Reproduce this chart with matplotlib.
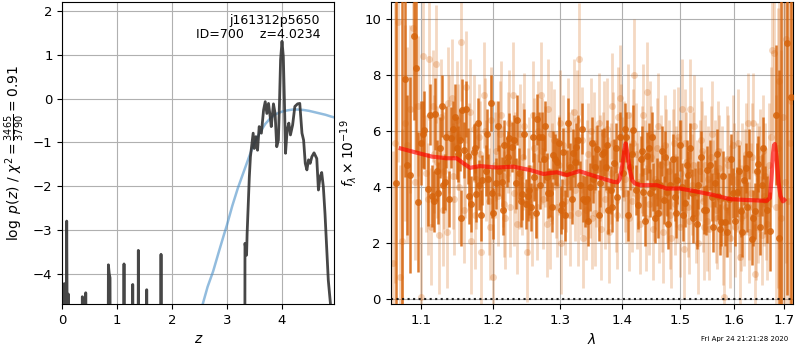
import matplotlib
matplotlib.use("Agg")
import matplotlib.pyplot as plt
from matplotlib.ticker import FixedLocator, FixedFormatter, NullLocator

# ---------------- Left panel: log p(z) ----------------
pz_z = [0.000, 0.028, 0.036, 0.044, 0.070, 0.080, 0.090, 0.104, 0.110, 0.118,
        0.355, 0.365, 0.375, 0.418, 0.427, 0.436,
        0.830, 0.840, 0.855, 0.870, 0.880,
        1.115, 1.125, 1.135, 1.275, 1.284, 1.293, 1.377, 1.386, 1.395,
        1.530, 1.539, 1.548, 1.790, 1.800, 1.810,
        3.325, 3.331, 3.360, 3.370, 3.410, 3.430, 3.480, 3.500, 3.530, 3.560,
        3.590, 3.630, 3.670, 3.700, 3.730, 3.760, 3.790, 3.810, 3.850, 3.880,
        3.910, 3.940, 3.960, 3.980, 4.006, 4.030, 4.050, 4.070, 4.100, 4.130,
        4.160, 4.200, 4.240, 4.290, 4.330, 4.370, 4.400, 4.430, 4.460, 4.490,
        4.520, 4.550, 4.590, 4.640, 4.670, 4.700, 4.730, 4.760, 4.790, 4.850,
        4.890, 4.960]
pz_val = [-9.0, -7.0, -4.23, -6.5, -6.0, -2.80, -5.5, -5.0, -4.47, -8.0,
          -9.0, -4.53, -9.0, -9.0, -4.44, -9.0,
          -9.0, -3.80, -4.00, -4.10, -9.0,
          -9.0, -3.78, -9.0, -9.0, -4.25, -9.0, -9.0, -3.47, -9.0,
          -9.0, -4.37, -9.0, -9.0, -3.56, -9.0,
          -9.0, -3.31, -3.58, -3.08, -1.79, -1.33, -0.79, -1.14, -0.87, -1.18,
          -0.64, -0.79, -0.26, -0.07, -0.34, -0.11, -0.41, -0.64, -0.12, -0.34,
          -1.10, -0.95, -0.10, 0.89, 1.31, 0.96, -0.05, -1.25, -0.72, -0.56,
          -0.83, -0.60, -0.18, -0.12, -0.11, -0.79, -0.95, -1.48, -1.63, -1.40,
          -1.48, -1.33, -1.24, -1.37, -2.09, -1.79, -1.69, -2.02, -2.63, -4.15,
          -4.70, -6.50]

prior_z = [2.30, 2.45, 2.56, 2.65, 2.75, 2.85, 2.95, 3.00, 3.10, 3.20, 3.30,
           3.40, 3.50, 3.60, 3.70, 3.80, 3.90, 4.00, 4.10, 4.20, 4.30, 4.40,
           4.50, 4.60, 4.70, 4.80, 4.90, 4.96]
prior_val = [-6.5, -5.5, -4.70, -4.30, -3.95, -3.52, -3.10, -2.90, -2.45, -2.05,
             -1.70, -1.35, -1.02, -0.78, -0.58, -0.44, -0.35, -0.30, -0.27, -0.25,
             -0.25, -0.26, -0.28, -0.31, -0.34, -0.37, -0.41, -0.43]

z_ticks = [0, 1, 2, 3, 4]
pz_yticks = [-4, -3, -2, -1, 0, 1, 2]

# ---------------- Right panel: spectrum ----------------
bin_wave = [1.0684, 1.0750, 1.0792, 1.0825, 1.0865, 1.0909, 1.0943, 1.0965, 1.1008, 1.1044,
            1.1097, 1.1154, 1.1194, 1.1230, 1.1261, 1.1297, 1.1341, 1.1409, 1.1456, 1.1488,
            1.1524, 1.1556, 1.1583, 1.1639, 1.1684, 1.1718, 1.1754, 1.1801, 1.1838, 1.1887,
            1.1923, 1.1966, 1.2000, 1.2038, 1.2086, 1.2120, 1.2158, 1.2192, 1.2230, 1.2265,
            1.2327, 1.2375, 1.2425, 1.2474, 1.2523, 1.2559, 1.2598, 1.2649, 1.2689, 1.2723,
            1.2753, 1.2790, 1.2842, 1.2893, 1.2946, 1.3008, 1.3049, 1.3101, 1.3153, 1.3205,
            1.3248, 1.3311, 1.3364, 1.3418, 1.3471, 1.3525, 1.3553, 1.3590, 1.3634, 1.3700,
            1.3733, 1.3771, 1.3811, 1.3865, 1.3920, 1.4020, 1.4065, 1.4132, 1.4188, 1.4273,
            1.4314, 1.4358, 1.4427, 1.4474, 1.4531, 1.4590, 1.4648, 1.4718, 1.4766, 1.4825,
            1.4914, 1.4955, 1.5034, 1.5093, 1.5153, 1.5214, 1.5275, 1.5336, 1.5441, 1.5502,
            1.5583, 1.5645, 1.5707, 1.5753, 1.5834, 1.5915, 1.5992, 1.6057, 1.6134, 1.6198,
            1.6262, 1.6348, 1.6413, 1.6479, 1.6546, 1.6612, 1.6708, 1.6830, 1.6884, 1.6935,
            1.7063, 1.7133]
bin_flux = [4.14, 12.0, 7.87, 4.80, 4.44, 9.40, 8.25, 3.49, 5.57, 6.05,
            3.93, 3.69, 6.62, 3.81, 5.42, 4.08, 5.79, 5.78, 6.50, 5.40,
            5.69, 6.78, 5.33, 5.12, 3.42, 5.25, 3.77, 4.08, 4.26, 4.60,
            4.30, 7.00, 3.07, 4.14, 4.60, 4.20, 5.50, 4.90, 5.75, 5.45,
            4.14, 4.50, 3.75, 3.40, 3.90, 3.31, 4.38, 6.43, 4.08, 5.80,
            5.00, 4.38, 3.80, 5.15, 4.91, 3.19, 5.27, 4.50, 4.74, 5.22,
            5.45, 4.08, 3.60, 3.60, 4.02, 4.30, 4.74, 5.38, 4.14, 5.26,
            4.74, 3.19, 3.90, 4.88, 3.66, 4.50, 5.80, 4.74, 6.04, 3.37,
            5.00, 3.84, 5.12, 3.80, 4.02, 4.20, 4.08, 3.55, 3.84, 4.08,
            3.66, 4.26, 4.02, 3.45, 4.44, 3.80, 3.84, 4.08, 3.19, 4.62,
            3.66, 4.14, 3.70, 2.77, 2.77, 3.60, 3.80, 3.84, 3.14, 4.26,
            3.30, 2.14, 3.14, 4.83, 4.08, 3.55, 2.43, 6.57, 2.20, 11.5,
            9.15, 7.24]
bin_err = [8.0, 12.5, 3.5, 2.5, 3.5, 3.0, 3.0, 2.5, 1.5, 1.4,
           1.3, 1.1, 1.3, 1.1, 1.1, 1.0, 1.1, 1.1, 1.2, 1.1,
           1.1, 1.1, 1.0, 1.0, 1.0, 1.0, 1.0, 0.9, 0.9, 0.9,
           0.9, 1.0, 0.9, 0.9, 0.9, 0.9, 0.9, 0.9, 0.9, 0.9,
           0.9, 0.9, 0.9, 0.9, 0.9, 0.85, 0.85, 0.9, 0.85, 0.9,
           0.85, 0.85, 0.85, 0.85, 0.85, 0.85, 0.85, 0.85, 0.85, 0.85,
           0.85, 0.85, 0.85, 0.85, 0.85, 0.85, 0.85, 0.85, 0.85, 0.85,
           0.85, 0.85, 0.85, 0.85, 0.85, 0.85, 0.9, 0.85, 0.9, 0.85,
           0.85, 0.85, 0.85, 0.85, 0.85, 0.85, 0.85, 0.85, 0.85, 0.85,
           0.85, 0.85, 0.85, 0.85, 0.85, 0.85, 0.85, 0.85, 0.85, 0.85,
           0.85, 0.85, 0.85, 0.85, 0.85, 0.9, 0.9, 0.9, 0.9, 0.9,
           0.9, 0.9, 1.0, 1.0, 1.1, 1.2, 1.4, 2.5, 6.0, 12.0,
           9.0, 9.0]

bin2_wave = [1.1026, 1.1125, 1.1175, 1.1212, 1.1279, 1.1320, 1.1375, 1.1432, 1.1505, 1.1540,
             1.1610, 1.1660, 1.1736, 1.1780, 1.1820, 1.1905, 1.1983, 1.2060, 1.2140, 1.2210,
             1.2296, 1.2350, 1.2400, 1.2450, 1.2500, 1.2575, 1.2625, 1.2670, 1.2770, 1.2815,
             1.2870, 1.2920, 1.2975, 1.3030, 1.3075, 1.3127, 1.3180, 1.3228, 1.3280, 1.3340,
             1.3390, 1.3445, 1.3498, 1.3612, 1.3667, 1.3752, 1.3838, 1.3893, 1.3970, 1.4043,
             1.4098, 1.4160, 1.4230, 1.4336, 1.4392, 1.4450, 1.4503, 1.4560, 1.4619, 1.4683,
             1.4742, 1.4795, 1.4870, 1.4935, 1.4995, 1.5063, 1.5123, 1.5183, 1.5244, 1.5305,
             1.5390, 1.5470, 1.5543, 1.5614, 1.5676, 1.5730, 1.5793, 1.5875, 1.5953, 1.6025,
             1.6095, 1.6166, 1.6230, 1.6305, 1.6380, 1.6446, 1.6512, 1.6580, 1.6650]
bin2_flux = [5.9, 6.6, 3.5, 4.6, 6.9, 4.2, 3.6, 6.1, 5.2, 2.9,
             6.8, 3.7, 5.4, 6.3, 3.0, 5.9, 3.8, 6.2, 3.2, 5.1,
             5.7, 6.4, 3.5, 5.9, 3.7, 5.8, 3.1, 5.8, 6.2, 3.8,
             3.3, 5.0, 5.6, 3.4, 3.0, 6.3, 3.6, 4.9, 5.7, 6.1,
             3.5, 2.8, 5.6, 3.0, 5.2, 5.5, 3.3, 5.4, 5.8, 6.1,
             3.0, 5.2, 3.9, 5.3, 2.8, 5.4, 5.8, 2.9, 3.1, 5.3,
             5.1, 2.7, 5.0, 3.1, 5.5, 3.0, 4.8, 5.4, 2.9, 2.7,
             5.1, 3.2, 4.8, 2.6, 5.2, 2.5, 4.4, 2.4, 5.0, 2.8,
             4.6, 2.4, 4.7, 5.2, 2.9, 4.6, 2.6, 5.4, 3.2]
bin2_err = [1.2, 1.1, 1.1, 1.1, 1.1, 1.0, 1.0, 1.0, 1.0, 1.0,
            1.0, 1.0, 0.9, 0.9, 0.9, 0.9, 0.9, 0.9, 0.9, 0.9,
            0.9, 0.9, 0.9, 0.9, 0.9, 0.9, 0.9, 0.9, 0.9, 0.9,
            0.9, 0.9, 0.9, 0.9, 0.9, 0.9, 0.9, 0.9, 0.9, 0.9,
            0.9, 0.9, 0.9, 0.9, 0.9, 0.9, 0.9, 0.9, 0.9, 0.9,
            0.9, 0.9, 0.9, 0.9, 0.9, 0.9, 0.9, 0.9, 0.9, 0.9,
            0.9, 0.9, 0.9, 0.9, 0.9, 0.9, 0.9, 0.9, 0.9, 0.9,
            0.9, 0.9, 0.9, 0.9, 0.9, 0.9, 0.9, 0.9, 0.9, 0.9,
            0.9, 0.9, 0.9, 0.9, 1.0, 1.0, 1.0, 1.1, 1.2]

pt_wave = [1.0635, 1.0668, 1.0702, 1.0726, 1.0758, 1.0790, 1.0825, 1.0860, 1.0896, 1.0930,
           1.0965, 1.1004, 1.1035, 1.1070, 1.1110, 1.1140, 1.1175, 1.1202, 1.1240, 1.1275,
           1.1310, 1.1345, 1.1380, 1.1415, 1.1450, 1.1485, 1.1520, 1.1545, 1.1580, 1.1615,
           1.1650, 1.1685, 1.1720, 1.1755, 1.1790, 1.1825, 1.1860, 1.1895, 1.1930, 1.1965,
           1.2000, 1.2035, 1.2070, 1.2105, 1.2140, 1.2175, 1.2210, 1.2245, 1.2280, 1.2315,
           1.2350, 1.2385, 1.2420, 1.2455, 1.2490, 1.2525, 1.2560, 1.2595, 1.2630, 1.2665,
           1.2700, 1.2735, 1.2770, 1.2805, 1.2840, 1.2875, 1.2910, 1.2945, 1.2980, 1.3015,
           1.3050, 1.3085, 1.3120, 1.3155, 1.3190, 1.3225, 1.3260, 1.3295, 1.3330, 1.3365,
           1.3400, 1.3435, 1.3470, 1.3505, 1.3540, 1.3575, 1.3610, 1.3645, 1.3680, 1.3715,
           1.3750, 1.3785, 1.3820, 1.3855, 1.3890, 1.3925, 1.3960, 1.3995, 1.4030, 1.4065,
           1.4100, 1.4135, 1.4170, 1.4205, 1.4240, 1.4275, 1.4310, 1.4345, 1.4380, 1.4415,
           1.4450, 1.4485, 1.4520, 1.4555, 1.4590, 1.4625, 1.4660, 1.4695, 1.4730, 1.4765,
           1.4800, 1.4835, 1.4870, 1.4905, 1.4940, 1.4975, 1.5010, 1.5045, 1.5080, 1.5115,
           1.5150, 1.5185, 1.5220, 1.5255, 1.5290, 1.5325, 1.5360, 1.5395, 1.5430, 1.5465,
           1.5500, 1.5535, 1.5570, 1.5605, 1.5640, 1.5675, 1.5710, 1.5745, 1.5780, 1.5815,
           1.5850, 1.5885, 1.5920, 1.5955, 1.5990, 1.6025, 1.6060, 1.6095, 1.6130, 1.6165,
           1.6200, 1.6235, 1.6270, 1.6305, 1.6340, 1.6375, 1.6410, 1.6445, 1.6480, 1.6515,
           1.6550, 1.6585, 1.6620, 1.6655, 1.6690, 1.6725, 1.6760, 1.6795, 1.6830, 1.6865,
           1.6900, 1.6935, 1.6970, 1.7005, 1.7040, 1.7075, 1.7110, 1.7145]
pt_flux = [1.3, 5.6, 9.9, 0.8, 2.1, 6.3, 5.5, 6.8, 9.7, 4.2,
           6.9, 0.1, 8.7, 4.5, 8.6, 2.6, 5.2, 8.4, 2.3, 6.5,
           4.6, 2.4, 5.9, 7.2, 3.6, 6.4, 4.0, 9.2, 3.2, 7.6,
           5.1, 2.1, 6.1, 4.3, 5.8, 1.7, 7.3, 4.6, 3.5, 6.4,
           0.8, 5.3, 3.7, 6.6, 4.4, 2.9, 5.6, 3.3, 7.3, 4.9,
           2.7, 5.9, 4.1, 6.2, 1.7, 4.7, 3.0, 5.4, 4.0, 6.0,
           7.3, 3.6, 5.1, 6.8, 2.9, 4.5, 5.7, 3.3, 4.8, 2.0,
           5.5, 4.2, 6.1, 3.0, 5.0, 3.9, 6.4, 8.6, 4.1, 2.2,
           3.2, 5.2, 4.0, 2.9, 5.6, 4.4, 6.3, 2.5, 4.9, 3.6,
           6.1, 2.4, 4.5, 5.6, 3.5, 6.5, 7.2, 4.7, 5.3, 3.8,
           6.6, 4.9, 3.5, 8.0, 5.2, 4.2, 2.7, 6.6, 4.6, 7.4,
           3.4, 5.1, 2.5, 4.3, 5.4, 3.1, 4.8, 2.4, 5.5, 3.8,
           4.6, 2.2, 5.0, 3.4, 4.4, 5.8, 2.6, 6.8, 1.8, 4.9,
           3.3, 6.8, 4.1, 6.2, 3.1, 2.0, 4.6, 5.3, 3.5, 4.8,
           2.8, 2.5, 5.1, 3.9, 4.6, 2.9, 5.3, 3.6, 4.4, 0.1,
           3.3, 4.8, 2.2, 3.9, 5.5, 2.6, 4.2, 3.2, 1.5, 4.5,
           3.0, 5.2, 6.3, 2.4, 3.8, 6.3, 0.9, 4.5, 3.1, 5.0,
           2.3, 3.7, 4.4, 2.7, 4.8, 5.8, 8.9, 8.8, 3.3, 5.4,
           7.8, 2.9, 6.5, 4.2, 9.3, 3.5, 5.6, 7.1]
pt_err = [4.0, 5.0, 5.0, 4.0, 4.0, 3.5, 3.5, 3.0, 3.0, 2.8,
          2.5, 2.5, 2.2, 2.1, 2.2, 2.1, 2.1, 2.1, 2.1, 2.1,
          2.1, 2.0, 2.1, 2.1, 2.0, 2.1, 2.0, 2.1, 1.9, 2.0,
          1.9, 1.9, 1.9, 1.8, 1.9, 1.9, 1.9, 1.8, 1.9, 1.9,
          1.9, 1.8, 1.8, 1.9, 1.8, 1.8, 1.8, 1.8, 1.9, 1.8,
          1.8, 1.8, 1.8, 1.9, 1.8, 1.8, 1.8, 1.8, 1.8, 1.8,
          1.9, 1.8, 1.8, 1.8, 1.8, 1.8, 1.8, 1.8, 1.8, 1.8,
          1.8, 1.8, 1.8, 1.8, 1.8, 1.8, 1.8, 2.0, 1.8, 1.8,
          1.8, 1.8, 1.8, 1.8, 1.8, 1.8, 1.8, 1.8, 1.8, 1.8,
          1.8, 1.8, 1.8, 1.8, 1.8, 1.8, 1.9, 1.8, 1.8, 1.8,
          1.8, 1.8, 1.8, 2.0, 1.8, 1.8, 1.8, 1.8, 1.8, 1.8,
          1.8, 1.8, 1.8, 1.8, 1.8, 1.8, 1.8, 1.8, 1.8, 1.8,
          1.8, 1.8, 1.8, 1.8, 1.8, 1.8, 1.8, 1.8, 1.8, 1.8,
          1.8, 1.8, 1.8, 1.8, 1.8, 1.8, 1.8, 1.8, 1.8, 1.8,
          1.8, 1.8, 1.8, 1.8, 1.8, 1.8, 1.8, 1.8, 1.8, 1.8,
          1.8, 1.8, 1.8, 1.8, 1.8, 1.8, 1.8, 1.8, 1.8, 1.8,
          1.8, 1.8, 1.8, 1.8, 1.8, 1.8, 1.8, 1.8, 1.8, 1.8,
          1.8, 1.8, 1.9, 2.0, 2.2, 2.5, 3.0, 3.5, 4.0, 5.0,
          6.0, 6.0, 7.0, 7.0, 8.0, 8.0, 8.0, 9.0]

pt2_wave = [1.1090, 1.1158, 1.1222, 1.1292, 1.1362, 1.1432, 1.1502, 1.1598, 1.1668, 1.1738,
            1.1808, 1.1878, 1.1948, 1.2018, 1.2088, 1.2158, 1.2228, 1.2298, 1.2368, 1.2438,
            1.2508, 1.2578, 1.2648, 1.2718, 1.2788, 1.2858, 1.2928, 1.2998, 1.3068, 1.3138,
            1.3208, 1.3278, 1.3348, 1.3418, 1.3488, 1.3558, 1.3628, 1.3698, 1.3768, 1.3838,
            1.3908, 1.3978, 1.4048, 1.4118, 1.4188, 1.4258, 1.4328, 1.4398, 1.4468, 1.4538,
            1.4608, 1.4678, 1.4748, 1.4818, 1.4888, 1.4958, 1.5028, 1.5098, 1.5168, 1.5238,
            1.5308, 1.5378, 1.5448, 1.5518, 1.5588, 1.5658, 1.5728, 1.5798, 1.5868, 1.5938,
            1.6008, 1.6078, 1.6148, 1.6218, 1.6288, 1.6358, 1.6428, 1.6498, 1.6568, 1.6638]
pt2_flux = [3.6, 6.9, 4.9, 3.2, 7.0, 4.4, 5.8, 4.8, 6.7, 3.0,
            5.2, 6.0, 2.6, 4.8, 5.9, 3.4, 6.3, 3.8, 4.4, 5.1,
            3.5, 6.6, 3.3, 5.3, 2.7, 5.9, 4.1, 6.3, 3.5, 4.8,
            6.7, 3.1, 5.7, 4.5, 6.0, 3.1, 4.7, 5.9, 3.9, 6.9,
            3.0, 5.8, 4.3, 2.9, 5.6, 3.7, 5.0, 2.9, 5.9, 4.0,
            6.2, 3.6, 4.9, 3.0, 5.6, 3.9, 4.5, 5.6, 2.8, 4.8,
            3.8, 5.7, 2.6, 4.3, 5.9, 3.2, 4.7, 2.4, 5.0, 3.6,
            4.4, 5.6, 2.9, 4.2, 3.3, 5.1, 2.6, 4.3, 5.3, 3.4]
pt2_err = [2.0, 2.0, 2.0, 2.0, 2.0, 1.9, 1.9, 1.9, 1.9, 1.9,
           1.9, 1.9, 1.9, 1.9, 1.9, 1.9, 1.9, 1.9, 1.9, 1.9,
           1.9, 1.9, 1.9, 1.9, 1.9, 1.9, 1.9, 1.9, 1.9, 1.9,
           1.9, 1.9, 1.9, 1.9, 1.9, 1.9, 1.9, 1.9, 1.9, 1.9,
           1.9, 1.9, 1.9, 1.9, 1.9, 1.9, 1.9, 1.9, 1.9, 1.9,
           1.9, 1.9, 1.9, 1.9, 1.9, 1.9, 1.9, 1.9, 1.9, 1.9,
           1.9, 1.9, 1.9, 1.9, 1.9, 1.9, 1.9, 1.9, 1.9, 1.9,
           1.9, 1.9, 1.9, 1.9, 1.9, 1.9, 1.9, 1.9, 2.0, 2.0]

model_wave = [1.0740, 1.0903, 1.1146, 1.1348, 1.1484, 1.1576, 1.1669, 1.1810, 1.2048, 1.2290,
              1.2538, 1.2740, 1.2946, 1.3101, 1.3300, 1.3580, 1.3853, 1.3919, 1.3960, 1.4000,
              1.4035, 1.4059, 1.4090, 1.4130, 1.4170, 1.4217, 1.4302, 1.4590, 1.4766, 1.5003,
              1.5306, 1.5612, 1.5928, 1.6249, 1.6642, 1.6708, 1.6740, 1.6770, 1.6790, 1.6808,
              1.6840, 1.6880, 1.6920, 1.6970, 1.7000]
model_flux = [5.39, 5.27, 5.10, 5.04, 5.04, 4.86, 4.70, 4.76, 4.71, 4.74,
              4.62, 4.48, 4.54, 4.44, 4.58, 4.38, 4.20, 4.18, 4.30, 4.75,
              5.30, 5.57, 5.20, 4.60, 4.25, 4.14, 4.08, 4.08, 3.96, 3.96,
              3.85, 3.73, 3.58, 3.55, 3.52, 3.62, 4.30, 5.20, 5.50, 5.55,
              5.10, 4.20, 3.70, 3.50, 3.55]

wave_ticks = [1.1, 1.2, 1.3, 1.4, 1.5, 1.6, 1.7]
wave_ticklabels = ['1.1', '1.2', '1.3', '1.4', '1.5', '1.6', '1.7']
flux_ticks = [0, 2, 4, 6, 8, 10]

title_text = 'j161312p5650\nID=700    z=4.0234'
date_text = 'Fri Apr 24 21:21:28 2020'

# ---------------- Figure ----------------
fig = plt.figure(figsize=(8, 3.5), dpi=100)
ax1 = fig.add_axes([0.0779, 0.131, 0.340, 0.864])
ax2 = fig.add_axes([0.4884, 0.131, 0.5033, 0.864])

ax1.plot(prior_z, prior_val, color='#4a90c8', alpha=0.6, lw=1.8, zorder=2)
ax1.plot(pz_z, pz_val, color='0.2', alpha=0.9, lw=2.0, zorder=3)
ax1.set_xlim(0, 4.96)
ax1.set_ylim(-4.70, 2.215)
ax1.set_xticks(z_ticks)
ax1.set_yticks(pz_yticks)
ax1.grid(True, color='#b0b0b0', lw=0.8)
ax1.set_axisbelow(True)
ax1.set_xlabel('$z$', fontsize=10)
ax1.set_ylabel(r'$\log\ p(z)$ / $\chi^2=\frac{3465}{3790}=0.91$', fontsize=10)
ax1.tick_params(labelsize=9.5)
ax1.text(0.948, 0.958, title_text, ha='right', va='top', fontsize=9,
         transform=ax1.transAxes, linespacing=1.1)

orange = '#d6640c'
for w, f, e in [(pt_wave, pt_flux, pt_err), (pt2_wave, pt2_flux, pt2_err)]:
    ax2.errorbar(w, f, yerr=e, fmt='o', color=orange, alpha=0.25,
                 markersize=5, elinewidth=2, capsize=0, markeredgewidth=0, zorder=2)
for w, f, e in [(bin_wave, bin_flux, bin_err), (bin2_wave, bin2_flux, bin2_err)]:
    ax2.errorbar(w, f, yerr=e, fmt='o', color=orange, alpha=0.85,
                 markersize=5, elinewidth=1.8, capsize=0, markeredgewidth=0, zorder=3)
ax2.plot(model_wave, model_flux, color='red', alpha=0.65, lw=3, zorder=4)
ax2.axhline(0, color='k', ls=':', lw=1.5, alpha=0.85, zorder=5)

ax2.set_xscale('log')
ax2.set_xlim(1.0612, 1.7184)
ax2.set_ylim(-0.17, 10.63)
ax2.xaxis.set_major_locator(FixedLocator(wave_ticks))
ax2.xaxis.set_major_formatter(FixedFormatter(wave_ticklabels))
ax2.xaxis.set_minor_locator(NullLocator())
ax2.set_yticks(flux_ticks)
ax2.grid(True, color='#b0b0b0', lw=0.8)
ax2.set_axisbelow(True)
ax2.set_xlabel(r'$\lambda$', fontsize=10)
ax2.set_ylabel(r'$f_\lambda\times10^{-19}$', fontsize=10)
ax2.tick_params(labelsize=9.5)

fig.text(0.985, 0.031, date_text, ha='right', va='center', fontsize=5)

fig.savefig('out.png', dpi=100)
